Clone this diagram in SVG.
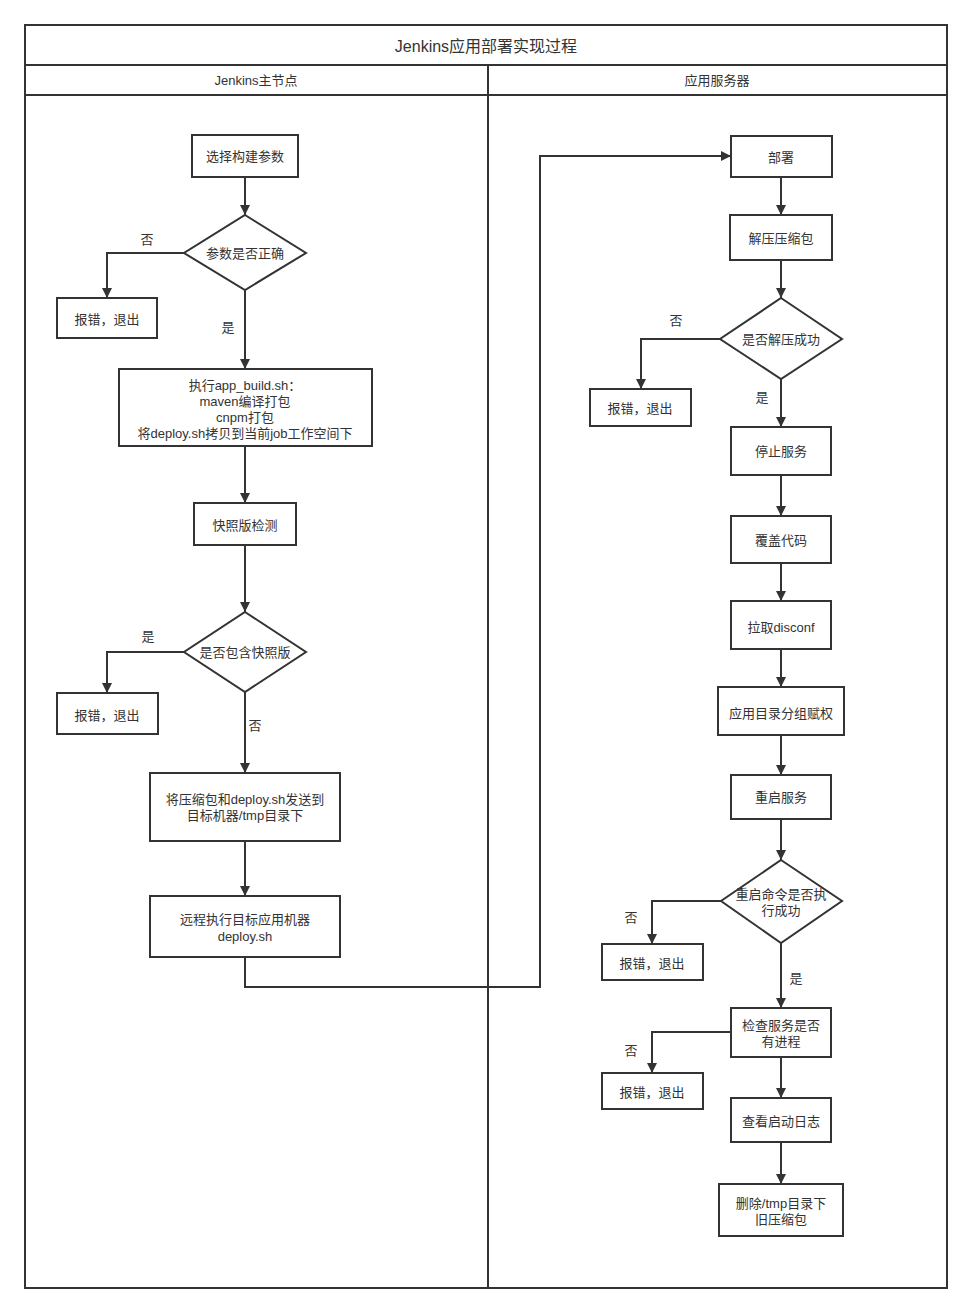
<svg xmlns="http://www.w3.org/2000/svg" width="972" height="1313" viewBox="0 0 972 1313">
<defs>
<marker id="arr" viewBox="0 0 10 10" refX="10" refY="5" markerWidth="10" markerHeight="11" markerUnits="userSpaceOnUse" orient="auto">
<path d="M0,0 L10,5 L0,10 Z" fill="#333"/>
</marker>
<style>
.box{fill:#fff;stroke:#333;stroke-width:2}
.frame{fill:none;stroke:#333;stroke-width:2}
.t{font-family:"Liberation Sans","Noto Sans CJK SC",sans-serif;font-size:13px;fill:#333;text-anchor:middle;dominant-baseline:central}
.title{font-size:16px}
.c{fill:none;stroke:#333;stroke-width:2;marker-end:url(#arr)}
</style>
</defs>
<rect width="972" height="1313" fill="#fff"/>
<g id="pool">
<rect class="frame" x="25" y="25" width="922" height="1263"/>
<line class="frame" x1="25" y1="65" x2="947" y2="65"/>
<line class="frame" x1="25" y1="95" x2="947" y2="95"/>
<line class="frame" x1="488" y1="65" x2="488" y2="1288"/>
<text class="t title" x="486" y="46">Jenkins应用部署实现过程</text>
<text class="t" x="256" y="80">Jenkins主节点</text>
<text class="t" x="717" y="80">应用服务器</text>
</g>
<g id="connectors">
<path class="c" d="M245,177 L245,215"/>
<path class="c" d="M184,253 L107,253 L107,298"/>
<text class="t" x="147" y="239">否</text>
<path class="c" d="M245,290 L245,369"/>
<text class="t" x="228" y="327">是</text>
<path class="c" d="M245,446 L245,503"/>
<path class="c" d="M245,545 L245,612"/>
<path class="c" d="M184,652 L107,652 L107,693"/>
<text class="t" x="148" y="636">是</text>
<path class="c" d="M245,692 L245,773"/>
<text class="t" x="255" y="725">否</text>
<path class="c" d="M245,841 L245,896"/>
<path class="c" d="M245,957 L245,987 L540,987 L540,156 L731,156"/>
<path class="c" d="M781,177 L781,215"/>
<path class="c" d="M781,260 L781,298"/>
<path class="c" d="M720,339 L641,339 L641,389"/>
<text class="t" x="676" y="320">否</text>
<path class="c" d="M781,379 L781,427"/>
<text class="t" x="762" y="397">是</text>
<path class="c" d="M781,475 L781,516"/>
<path class="c" d="M781,563 L781,601"/>
<path class="c" d="M781,649 L781,687"/>
<path class="c" d="M781,735 L781,775"/>
<path class="c" d="M781,819 L781,860"/>
<path class="c" d="M721,901 L652,901 L652,944"/>
<text class="t" x="631" y="917">否</text>
<path class="c" d="M781,943 L781,1008"/>
<text class="t" x="796" y="978">是</text>
<path class="c" d="M731,1032 L652,1032 L652,1073"/>
<text class="t" x="631" y="1050">否</text>
<path class="c" d="M781,1057 L781,1098"/>
<path class="c" d="M781,1142 L781,1184"/>
</g>
<g id="n1"><rect class="box" x="192" y="135" width="106" height="42"/><text class="t" x="245" y="156">选择构建参数</text></g>
<g id="n2"><polygon class="box" points="245,215 306,253 245,290 184,253"/><text class="t" x="245" y="253">参数是否正确</text></g>
<g id="n3"><rect class="box" x="57" y="298" width="100" height="40"/><text class="t" x="107" y="319">报错，退出</text></g>
<g id="n4"><rect class="box" x="119" y="369" width="253" height="77"/>
<text class="t" x="245" y="385">执行app_build.sh：</text>
<text class="t" x="245" y="401">maven编译打包</text>
<text class="t" x="245" y="417">cnpm打包</text>
<text class="t" x="245" y="433">将deploy.sh拷贝到当前job工作空间下</text></g>
<g id="n5"><rect class="box" x="194" y="503" width="102" height="42"/><text class="t" x="245" y="525">快照版检测</text></g>
<g id="n6"><polygon class="box" points="245,612 306,652 245,692 184,652"/><text class="t" x="245" y="652">是否包含快照版</text></g>
<g id="n7"><rect class="box" x="57" y="693" width="101" height="41"/><text class="t" x="107" y="715">报错，退出</text></g>
<g id="n8"><rect class="box" x="150" y="773" width="190" height="68"/>
<text class="t" x="245" y="799">将压缩包和deploy.sh发送到</text>
<text class="t" x="245" y="815">目标机器/tmp目录下</text></g>
<g id="n9"><rect class="box" x="150" y="896" width="190" height="61"/>
<text class="t" x="245" y="919">远程执行目标应用机器</text>
<text class="t" x="245" y="936">deploy.sh</text></g>
<g id="r1"><rect class="box" x="731" y="136" width="101" height="41"/><text class="t" x="781" y="157">部署</text></g>
<g id="r2"><rect class="box" x="730" y="215" width="102" height="45"/><text class="t" x="781" y="238">解压压缩包</text></g>
<g id="r3"><polygon class="box" points="781,298 842,339 781,379 720,339"/><text class="t" x="781" y="339">是否解压成功</text></g>
<g id="r4"><rect class="box" x="590" y="389" width="101" height="37"/><text class="t" x="640" y="408">报错，退出</text></g>
<g id="r5"><rect class="box" x="731" y="427" width="100" height="48"/><text class="t" x="781" y="451">停止服务</text></g>
<g id="r6"><rect class="box" x="731" y="516" width="100" height="47"/><text class="t" x="781" y="540">覆盖代码</text></g>
<g id="r7"><rect class="box" x="731" y="601" width="100" height="48"/><text class="t" x="781" y="627">拉取disconf</text></g>
<g id="r8"><rect class="box" x="718" y="687" width="126" height="48"/><text class="t" x="781" y="713">应用目录分组赋权</text></g>
<g id="r9"><rect class="box" x="731" y="775" width="100" height="44"/><text class="t" x="781" y="797">重启服务</text></g>
<g id="r10"><polygon class="box" points="781,860 842,901 781,943 721,901"/>
<text class="t" x="781" y="894">重启命令是否执</text>
<text class="t" x="781" y="910">行成功</text></g>
<g id="r11"><rect class="box" x="602" y="944" width="101" height="36"/><text class="t" x="652" y="963">报错，退出</text></g>
<g id="r12"><rect class="box" x="731" y="1008" width="100" height="49"/>
<text class="t" x="781" y="1025">检查服务是否</text>
<text class="t" x="781" y="1041">有进程</text></g>
<g id="r13"><rect class="box" x="602" y="1073" width="101" height="36"/><text class="t" x="652" y="1092">报错，退出</text></g>
<g id="r14"><rect class="box" x="731" y="1098" width="100" height="44"/><text class="t" x="781" y="1121">查看启动日志</text></g>
<g id="r15"><rect class="box" x="719" y="1184" width="124" height="52"/>
<text class="t" x="781" y="1203">删除/tmp目录下</text>
<text class="t" x="781" y="1219">旧压缩包</text></g>
</svg>
